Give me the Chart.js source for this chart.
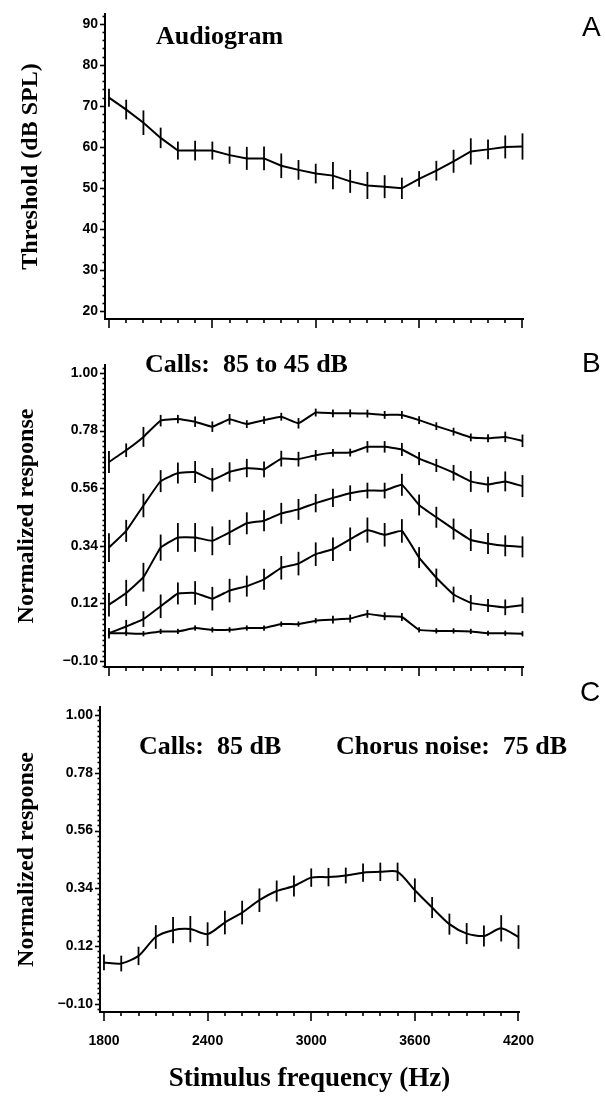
<!DOCTYPE html>
<html>
<head>
<meta charset="utf-8">
<script src="https://cdn.jsdelivr.net/npm/chart.js@4.4.1/dist/chart.umd.min.js"></script>
<style>
  body { margin: 0; background: #fff; width: 605px; height: 1098px; position: relative; overflow: hidden; }
  canvas { position: absolute; left: 0; }
  .note { position: absolute; font-family: "Liberation Serif", serif; font-weight: bold; font-size: 26px; line-height: 26px; white-space: pre; color: #000; }
  .panel { position: absolute; font-family: "Liberation Sans", sans-serif; font-size: 28px; line-height: 28px; color: #000; }
</style>
</head>
<body>
<canvas id="chartA" width="605" height="340" style="top:0"></canvas>
<canvas id="chartB" width="605" height="350" style="top:340px"></canvas>
<canvas id="chartC" width="605" height="408" style="top:690px"></canvas>

<div class="panel" style="left:582px;top:13px">A</div>
<div class="panel" style="left:582px;top:349px">B</div>
<div class="panel" style="left:580px;top:678px">C</div>
<div class="note" style="left:156px;top:23px">Audiogram</div>
<div class="note" style="left:145px;top:351px">Calls:  85 to 45 dB</div>
<div class="note" style="left:139px;top:733px">Calls:  85 dB</div>
<div class="note" style="left:336px;top:733px">Chorus noise:  75 dB</div>

<script>
// stimulus frequencies (Hz), one point every 100 Hz
const FREQS = [1800, 1900, 2000, 2100, 2200, 2300, 2400, 2500, 2600, 2700, 2800, 2900,
  3000, 3100, 3200, 3300, 3400, 3500, 3600, 3700, 3800, 3900, 4000, 4100, 4200];
const FREQ_TICKS = [1800, 2400, 3000, 3600, 4200];
const THRESHOLD_TICKS = [20, 30, 40, 50, 60, 70, 80, 90];
const RESPONSE_TICKS = [-0.10, 0.12, 0.34, 0.56, 0.78, 1.00];

// A: audiogram (dB SPL) with +/- error
const THRESHOLD = [72.0, 69.1, 65.9, 62.2, 59.1, 59.1, 59.1, 58.0, 57.2, 57.2, 55.4, 54.4,
  53.5, 53.0, 51.6, 50.6, 50.3, 49.9, 52.2, 54.2, 56.5, 58.9, 59.4, 60.0, 60.1];
const THRESHOLD_ERR = [2.2, 2.4, 3.0, 2.5, 2.2, 2.4, 2.2, 2.1, 2.8, 2.9, 3.0, 2.4,
  2.4, 3.3, 2.8, 3.3, 2.8, 2.6, 1.9, 2.4, 2.8, 3.2, 2.4, 2.8, 3.2];

// B: normalized response, calls from 85 dB (top) down to 45 dB (bottom)
const CALLS_85 = [0.660, 0.705, 0.756, 0.818, 0.824, 0.814, 0.795, 0.823, 0.805, 0.820, 0.833, 0.808,
  0.849, 0.846, 0.846, 0.845, 0.840, 0.840, 0.820, 0.797, 0.776, 0.754, 0.751, 0.756, 0.741];
const CALLS_85_ERR = [0.042, 0.026, 0.038, 0.022, 0.016, 0.02, 0.02, 0.02, 0.015, 0.015, 0.015, 0.02,
  0.015, 0.015, 0.015, 0.015, 0.015, 0.015, 0.015, 0.015, 0.015, 0.015, 0.015, 0.02, 0.024];
const CALLS_75 = [0.333, 0.397, 0.494, 0.587, 0.618, 0.622, 0.592, 0.622, 0.637, 0.632, 0.673, 0.671,
  0.686, 0.695, 0.696, 0.718, 0.718, 0.708, 0.673, 0.647, 0.619, 0.586, 0.574, 0.586, 0.568];
const CALLS_75_ERR = [0.055, 0.042, 0.045, 0.042, 0.04, 0.042, 0.045, 0.037, 0.035, 0.03, 0.03, 0.028,
  0.02, 0.015, 0.015, 0.022, 0.022, 0.025, 0.025, 0.025, 0.03, 0.04, 0.03, 0.038, 0.042];
const CALLS_65 = [0.115, 0.160, 0.220, 0.333, 0.372, 0.372, 0.359, 0.391, 0.426, 0.436, 0.464, 0.479,
  0.503, 0.523, 0.541, 0.551, 0.551, 0.573, 0.496, 0.449, 0.404, 0.362, 0.349, 0.340, 0.336];
const CALLS_65_ERR = [0.045, 0.05, 0.055, 0.05, 0.055, 0.055, 0.055, 0.048, 0.042, 0.04, 0.04, 0.04,
  0.035, 0.035, 0.03, 0.03, 0.03, 0.042, 0.04, 0.04, 0.04, 0.042, 0.04, 0.04, 0.04];
const CALLS_55 = [0.006, 0.032, 0.060, 0.109, 0.158, 0.160, 0.138, 0.169, 0.186, 0.212, 0.256, 0.272,
  0.308, 0.327, 0.365, 0.400, 0.382, 0.397, 0.295, 0.218, 0.154, 0.122, 0.112, 0.105, 0.113];
const CALLS_55_ERR = [0.02, 0.025, 0.03, 0.045, 0.042, 0.045, 0.045, 0.045, 0.04, 0.04, 0.045, 0.045,
  0.045, 0.045, 0.045, 0.048, 0.045, 0.045, 0.04, 0.035, 0.03, 0.03, 0.025, 0.03, 0.03];
const CALLS_45 = [0.006, 0.006, 0.004, 0.013, 0.013, 0.026, 0.019, 0.019, 0.026, 0.026, 0.041, 0.041,
  0.054, 0.058, 0.062, 0.080, 0.071, 0.068, 0.019, 0.015, 0.015, 0.013, 0.006, 0.006, 0.004];
const CALLS_45_ERR = [0.01, 0.01, 0.01, 0.01, 0.01, 0.01, 0.01, 0.01, 0.01, 0.01, 0.01, 0.01,
  0.01, 0.015, 0.015, 0.015, 0.015, 0.015, 0.01, 0.01, 0.01, 0.01, 0.01, 0.01, 0.01];

// C: calls at 85 dB in 75 dB chorus noise
const NOISE_85 = [0.058, 0.054, 0.083, 0.155, 0.181, 0.185, 0.166, 0.210, 0.248, 0.295, 0.330, 0.349,
  0.381, 0.383, 0.389, 0.400, 0.403, 0.403, 0.333, 0.267, 0.204, 0.168, 0.159, 0.188, 0.155];
const NOISE_85_ERR = [0.03, 0.03, 0.035, 0.045, 0.05, 0.05, 0.045, 0.045, 0.045, 0.045, 0.04, 0.04,
  0.035, 0.035, 0.03, 0.035, 0.035, 0.035, 0.045, 0.04, 0.04, 0.04, 0.04, 0.05, 0.045];

Chart.defaults.color = '#000';
Chart.defaults.animation = false;

const tickFont = { family: 'Liberation Sans', weight: 'bold', size: 14 };
const yTitleFont = { family: 'Liberation Serif', weight: 'bold', size: 24 };
const xTitleFont = { family: 'Liberation Serif', weight: 'bold', size: 27 };

// error bars plus major/minor tick marks, all placed through the chart scales
const marks = {
  id: 'marks',
  afterDatasetsDraw(chart) {
    const ctx = chart.ctx, y = chart.scales.y;
    ctx.save();
    ctx.strokeStyle = '#000';
    ctx.lineWidth = 1.8;
    chart.data.datasets.forEach((ds, i) => {
      const meta = chart.getDatasetMeta(i);
      ds.data.forEach((p, j) => {
        const e = ds.errors[j];
        const px = meta.data[j].x;
        ctx.beginPath();
        ctx.moveTo(px, y.getPixelForValue(p.y - e));
        ctx.lineTo(px, y.getPixelForValue(p.y + e));
        ctx.stroke();
      });
    });
    ctx.restore();
  },
  afterDraw(chart, args, opts) {
    const ctx = chart.ctx, x = chart.scales.x, y = chart.scales.y;
    const area = chart.chartArea;
    ctx.save();
    ctx.strokeStyle = '#000';
    ctx.lineWidth = 1.6;
    for (let f = 1800; f <= 4200; f += 100) {
      const px = Math.round(x.getPixelForValue(f));
      const len = FREQ_TICKS.includes(f) ? 9 : 4;
      ctx.beginPath();
      ctx.moveTo(px, area.bottom);
      ctx.lineTo(px, area.bottom + len);
      ctx.stroke();
    }
    const n = Math.round((opts.last - opts.first) / opts.step);
    for (let k = 0; k <= n; k++) {
      const v = opts.first + k * opts.step;
      const major = opts.majors.some(m => Math.abs(m - v) < 1e-6);
      const py = Math.round(y.getPixelForValue(v)) + 0.5;
      ctx.beginPath();
      ctx.moveTo(area.left, py);
      ctx.lineTo(area.left - (major ? 5 : 2.5), py);
      ctx.stroke();
    }
    ctx.restore();
  }
};

function series(values, errors, tension) {
  return {
    data: FREQS.map((f, i) => ({ x: f, y: values[i] })),
    errors: errors,
    borderColor: '#000',
    borderWidth: 2,
    pointRadius: 0,
    tension: tension,
    fill: false
  };
}

function makeChart(id, cfg) {
  return new Chart(document.getElementById(id), {
    type: 'line',
    data: { datasets: cfg.datasets },
    options: {
      responsive: false,
      events: [],
      layout: { padding: { top: cfg.top, right: cfg.right, bottom: 0, left: 0 } },
      plugins: { legend: { display: false }, tooltip: { enabled: false }, marks: cfg.marks },
      scales: {
        x: {
          type: 'linear', min: 1777, max: 4203,
          afterBuildTicks: s => { s.ticks = FREQ_TICKS.map(v => ({ value: v })); },
          afterFit: s => { s.height = cfg.xHeight; s.paddingLeft = 0; s.paddingRight = 0; },
          grid: { display: false, drawTicks: false },
          border: { display: true, color: '#000', width: 2 },
          ticks: { display: cfg.xLabels, autoSkip: false, maxRotation: 0, padding: 21, font: tickFont, callback: v => String(v) },
          title: { display: cfg.xLabels, text: 'Stimulus frequency (Hz)', font: xTitleFont, padding: { top: 0, bottom: 3 } }
        },
        y: {
          min: cfg.yMin, max: cfg.yMax,
          afterBuildTicks: s => { s.ticks = cfg.yTicks.map(v => ({ value: v })); },
          afterFit: s => { s.width = cfg.yWidth; s.paddingTop = 0; s.paddingBottom = 0; },
          grid: { display: false, drawTicks: false },
          border: { display: true, color: '#000', width: 2 },
          ticks: { padding: 7, font: tickFont, callback: cfg.yFormat },
          title: { display: true, text: cfg.yTitle, font: yTitleFont, padding: { top: cfg.yTitlePad, bottom: 0 } }
        }
      }
    },
    plugins: [marks]
  });
}

const fmtResponse = v => (v < 0 ? '\u2212' : '') + Math.abs(v).toFixed(2);

makeChart('chartA', {
  datasets: [series(THRESHOLD, THRESHOLD_ERR, 0)],
  top: 14, right: 82, xHeight: 21, yWidth: 105,
  yMin: 18.05, yMax: 92.4, yTicks: THRESHOLD_TICKS, yFormat: v => String(v),
  yTitle: 'Threshold (dB SPL)', yTitlePad: 16, xLabels: false,
  marks: { first: 20, last: 92, step: 2, majors: THRESHOLD_TICKS }
});

makeChart('chartB', {
  datasets: [
    series(CALLS_85, CALLS_85_ERR, 0.1),
    series(CALLS_75, CALLS_75_ERR, 0.1),
    series(CALLS_65, CALLS_65_ERR, 0.1),
    series(CALLS_55, CALLS_55_ERR, 0.1),
    series(CALLS_45, CALLS_45_ERR, 0.1)
  ],
  top: 25, right: 82, xHeight: 23, yWidth: 105,
  yMin: -0.1229, yMax: 1.0306, yTicks: RESPONSE_TICKS, yFormat: fmtResponse,
  yTitle: 'Normalized response', yTitlePad: 12, xLabels: false,
  marks: { first: -0.12, last: 1.02, step: 0.02, majors: RESPONSE_TICKS }
});

makeChart('chartC', {
  datasets: [series(NOISE_85, NOISE_85_ERR, 0.25)],
  top: 17, right: 86, xHeight: 86, yWidth: 100,
  yMin: -0.1305, yMax: 1.0305, yTicks: RESPONSE_TICKS, yFormat: fmtResponse,
  yTitle: 'Normalized response', yTitlePad: 12, xLabels: true,
  marks: { first: -0.12, last: 1.02, step: 0.02, majors: RESPONSE_TICKS }
});
</script>
</body>
</html>
